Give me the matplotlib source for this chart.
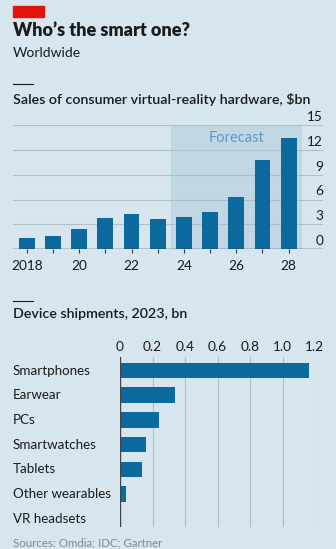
import matplotlib
matplotlib.use("Agg")
import matplotlib.pyplot as plt
from matplotlib.patches import Rectangle
from matplotlib.lines import Line2D
import matplotlib.transforms as mtransforms

plt.rcParams['font.family'] = ['Lato', 'DejaVu Sans']

# ---- data ----
years = [2018, 2019, 2020, 2021, 2022, 2023, 2024, 2025, 2026, 2027, 2028]
sales = [1.33, 1.6, 2.5, 3.8, 4.2, 3.6, 3.9, 4.5, 6.3, 10.8, 13.45]
year_ticks = [2018, 2020, 2022, 2024, 2026, 2028]
year_labels = ["2018", "20", "22", "24", "26", "28"]
sales_ticks = [0, 3, 6, 9, 12, 15]
forecast_start, forecast_end = 2023.5, 2028.5

devices = ["Smartphones", "Earwear", "PCs", "Smartwatches", "Tablets",
           "Other wearables", "VR headsets"]
shipments = [1.165, 0.34, 0.242, 0.162, 0.137, 0.039, 0.007]
ship_ticks = [0, 0.2, 0.4, 0.6, 0.8, 1.0, 1.2]
ship_labels = ["0", "0.2", "0.4", "0.6", "0.8", "1.0", "1.2"]

BG = "#d7e5ee"
SHADE = "#c2d7e4"
BAR = "#0c6a9f"
GRID = "#adbfca"
DARK = "#1a1a1a"

W, H = 336, 549
fig = plt.figure(figsize=(W / 100, H / 100), dpi=100, facecolor=BG)

def fx(px):
    return px / W

def fy(py):
    return (H - py) / H

# header
fig.patches.append(Rectangle((fx(12.7), fy(16.7)), fx(44) - fx(12.7), (16.7 - 6) / H,
                             transform=fig.transFigure, color="#e3120b", zorder=5))
fig.text(fx(12.7), fy(31), "Who\u2019s the smart one?", fontsize=13, fontweight="heavy",
         color=DARK, va="center", ha="left")
fig.text(fx(12.7), fy(53), "Worldwide", fontsize=10, color=DARK, va="center", ha="left")

fig.lines.append(Line2D([fx(12.7), fx(33.3)], [fy(84.3), fy(84.3)], transform=fig.transFigure,
                        color=DARK, lw=0.8))
fig.text(fx(12.7), fy(99), "Sales of consumer virtual-reality hardware, $bn", fontsize=10.3,
         fontweight="semibold", color=DARK, va="center", ha="left")

# ---- top chart ----
ax1 = fig.add_axes([fx(12.7), fy(249.3), fx(323) - fx(12.7), (249.3 - 125) / H])
ax1.set_facecolor("none")
ax1.set_xlim(2017.465, 2029.31)
ax1.set_ylim(0, 15)
ax1.axvspan(forecast_start, forecast_end, ymin=0, ymax=1, color=SHADE, zorder=0, lw=0)
for v in sales_ticks[1:]:
    ax1.axhline(v, color=GRID, lw=0.8, zorder=1)
ax1.axhline(0, color="#333333", lw=1.0, zorder=4)
ax1.bar(years, sales, width=0.6, color=BAR, zorder=3)
for s in ax1.spines.values():
    s.set_visible(False)
ax1.set_yticks([])
ax1.set_xticks(years, minor=True)
ax1.set_xticks(year_ticks)
ax1.set_xticklabels(year_labels, fontsize=9.8, color=DARK)
ax1.tick_params(axis="x", which="both", length=3, width=0.8, color="#333333", pad=5)
trans = mtransforms.blended_transform_factory(ax1.transAxes, ax1.transData)
off = mtransforms.offset_copy(trans, fig=fig, x=0, y=1.5, units="points")
for v in sales_ticks:
    ax1.text(1.0, v, str(v), transform=off, ha="right", va="bottom", fontsize=9.8, color=DARK)
ax1.text(2026.0, 13.4, "Forecast", ha="center", va="center", fontsize=10.5, color="#5a9bc5")

# ---- bottom chart ----
fig.lines.append(Line2D([fx(12.7), fx(33.3)], [fy(301), fy(301)], transform=fig.transFigure,
                        color=DARK, lw=0.8))
fig.text(fx(12.7), fy(314), "Device shipments, 2023, bn", fontsize=10.3,
         fontweight="semibold", color=DARK, va="center", ha="left")

ax2 = fig.add_axes([fx(120), fy(526.7), fx(315) - fx(120), (526.7 - 356.7) / H])
ax2.set_facecolor("none")
pos = list(range(len(devices)))
ax2.barh(pos, shipments, height=0.63, color=BAR, zorder=3)
ax2.set_xlim(0, 1.2)
ax2.set_ylim(6.32, -0.56)
for v in ship_ticks[1:]:
    ax2.axvline(v, color=GRID, lw=0.8, zorder=1)
ax2.axvline(0, color="#444444", lw=1.0, zorder=4)
for s in ax2.spines.values():
    s.set_visible(False)
ax2.set_yticks([])
ax2.xaxis.tick_top()
ax2.set_xticks(ship_ticks)
ax2.set_xticklabels(ship_labels, fontsize=9.8, color=DARK)
ax2.tick_params(axis="x", length=0, pad=2.5)
ltrans = mtransforms.blended_transform_factory(fig.transFigure, ax2.transData)
for p, name in zip(pos, devices):
    ax2.text(fx(12.7), p, name, transform=ltrans, ha="left", va="center", fontsize=9.6,
             color=DARK)

fig.text(fx(12.7), fy(542.5), "Sources: Omdia; IDC; Gartner", fontsize=8.3, color="#7b8a94",
         va="center", ha="left")

fig.savefig("out.png", dpi=100, facecolor=BG)
